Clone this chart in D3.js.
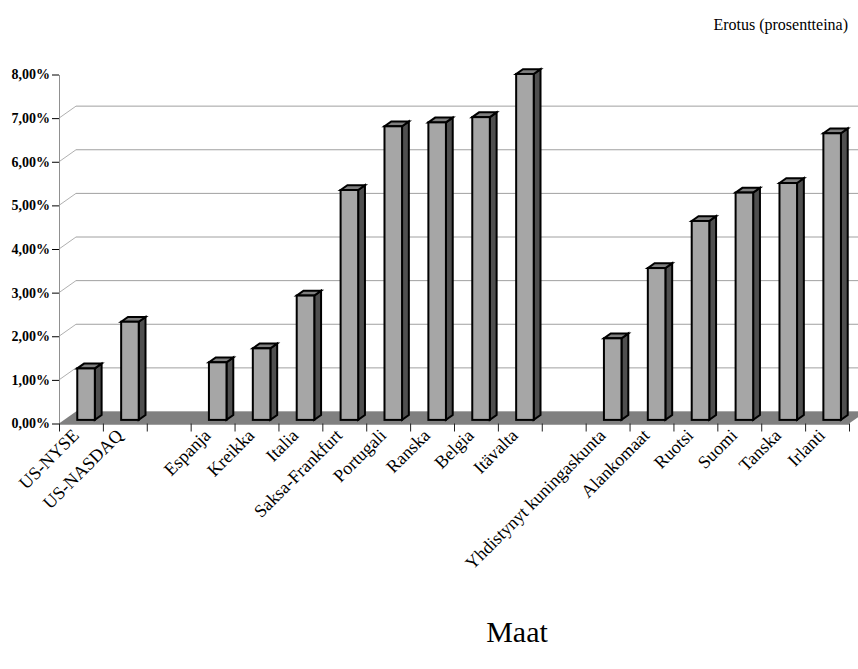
<!DOCTYPE html>
<html>
<head>
<meta charset="utf-8">
<script src="https://cdn.jsdelivr.net/npm/d3@7"></script>
<style>
  html, body { margin: 0; padding: 0; background: #fff; }
  svg { display: block; }
  text { font-family: "Liberation Serif", "Times New Roman", serif; fill: #000; }
</style>
</head>
<body>
<svg id="chart" width="858" height="669"></svg>
<script>
(function () {
// ---- Data ----
const categories = ["US-NYSE", "US-NASDAQ", "", "Espanja", "Kreikka", "Italia", "Saksa-Frankfurt",
  "Portugali", "Ranska", "Belgia", "Itävalta", "", "Yhdistynyt kuningaskunta", "Alankomaat",
  "Ruotsi", "Suomi", "Tanska", "Irlanti"];
const values = [1.18, 2.25, null, 1.32, 1.64, 2.85, 5.27, 6.73, 6.82, 6.94, 7.93, null,
  1.87, 3.48, 4.56, 5.21, 5.43, 6.57];
const yTicks = [0, 1, 2, 3, 4, 5, 6, 7, 8];
const yTitle = "Erotus (prosentteina)";
const xTitle = "Maat";

// ---- Layout ----
const svg = d3.select("#chart");
const pLeft = 59, pRight = 849, pBottom = 423.5, pTop = 74.5;
const DX = 17, DY = -12;            // depth of the 3D floor/walls
const idx = d3.range(categories.length);

const x = d3.scaleBand().domain(idx).range([pLeft, pRight]).padding(0);
const xLin = d3.scaleLinear().domain([0, categories.length]).range([pLeft, pRight]);
const y = d3.scaleLinear().domain([0, 8]).range([pBottom, pTop]);

const loc = d3.formatLocale({decimal: ",", thousands: " ", grouping: [3], currency: ["", ""]});
const fmt = v => loc.format(".2f")(v) + "%";

// back-wall gridlines + side-wall diagonals
const grid = svg.append("g");
yTicks.filter(t => t > 0 && t < 8).forEach(t => {
  grid.append("line")
    .attr("x1", pLeft + DX).attr("x2", pRight + DX)
    .attr("y1", y(t) + DY).attr("y2", y(t) + DY)
    .attr("stroke", "#a0a0a0").attr("stroke-width", 1);
  grid.append("line")
    .attr("x1", pLeft).attr("x2", pLeft + DX)
    .attr("y1", y(t)).attr("y2", y(t) + DY)
    .attr("stroke", "#b0b0b0").attr("stroke-width", 1);
});

// floor
svg.append("polygon")
  .attr("points", [[pLeft, pBottom], [pRight, pBottom], [pRight + DX, pBottom + DY], [pLeft + DX, pBottom + DY]].join(" "))
  .attr("fill", "#808080");
svg.append("line")
  .attr("x1", pLeft + DX).attr("x2", pRight + DX)
  .attr("y1", pBottom + DY).attr("y2", pBottom + DY)
  .attr("stroke", "#a8a8a8").attr("stroke-width", 1);

// bars
const bw = x.bandwidth();
const barW = bw / 2.5;
const f0 = 0.3, fd = 0.4;
const bars = svg.append("g");
idx.forEach(i => {
  const v = values[i];
  if (v == null) return;
  const x0 = x(i) + (bw - barW) / 2 + f0 * DX;
  const x1 = x0 + barW;
  const yb = y(0) + f0 * DY;
  const yt = y(v) + f0 * DY;
  const ddx = fd * DX, ddy = fd * DY;
  const g = bars.append("g")
    .attr("stroke", "#000").attr("stroke-width", 2).attr("stroke-linejoin", "miter");
  g.append("polygon")
    .attr("points", [[x1, yt], [x1 + ddx, yt + ddy], [x1 + ddx, yb + ddy], [x1, yb]].join(" "))
    .attr("fill", "#4f4f4f");
  g.append("polygon")
    .attr("points", [[x0, yt], [x0 + ddx, yt + ddy], [x1 + ddx, yt + ddy], [x1, yt]].join(" "))
    .attr("fill", "#7f7f7f");
  g.append("rect")
    .attr("x", x0).attr("y", yt).attr("width", barW).attr("height", yb - yt)
    .attr("fill", "#a6a6a6");
});

// y axis
const yAxis = svg.append("g")
  .attr("transform", `translate(${pLeft},0)`)
  .call(d3.axisLeft(y).tickValues(yTicks).tickFormat(fmt).tickSize(7).tickPadding(2).tickSizeOuter(0));
yAxis.select(".domain").attr("stroke", "#909090");
yAxis.selectAll(".tick line").attr("stroke", "#000");
yAxis.selectAll(".tick text")
  .style("font-family", '"Liberation Serif", serif')
  .style("font-size", "14px").style("font-weight", "bold").attr("fill", "#000");

// x axis (ticks at category boundaries)
const xAxis = svg.append("g")
  .attr("transform", `translate(0,${pBottom})`)
  .call(d3.axisBottom(xLin).tickValues(d3.range(categories.length + 1)).tickFormat("").tickSize(8).tickSizeOuter(0));
xAxis.select(".domain").attr("stroke", "#404040");
xAxis.selectAll(".tick line").attr("stroke", "#202020");

// category labels
svg.append("g").selectAll("text")
  .data(idx.filter(i => categories[i] !== ""))
  .join("text")
  .attr("transform", i => `translate(${x(i) + bw / 2 - 1},${pBottom + 13}) rotate(-45)`)
  .attr("text-anchor", "end")
  .style("font-size", "18px")
  .text(i => categories[i]);

// titles
svg.append("text")
  .attr("x", 848).attr("y", 30)
  .attr("text-anchor", "end")
  .style("font-size", "16px")
  .text(yTitle);
svg.append("text")
  .attr("x", 517).attr("y", 642)
  .attr("text-anchor", "middle")
  .style("font-size", "30px")
  .text(xTitle);
})();
</script>
</body>
</html>
